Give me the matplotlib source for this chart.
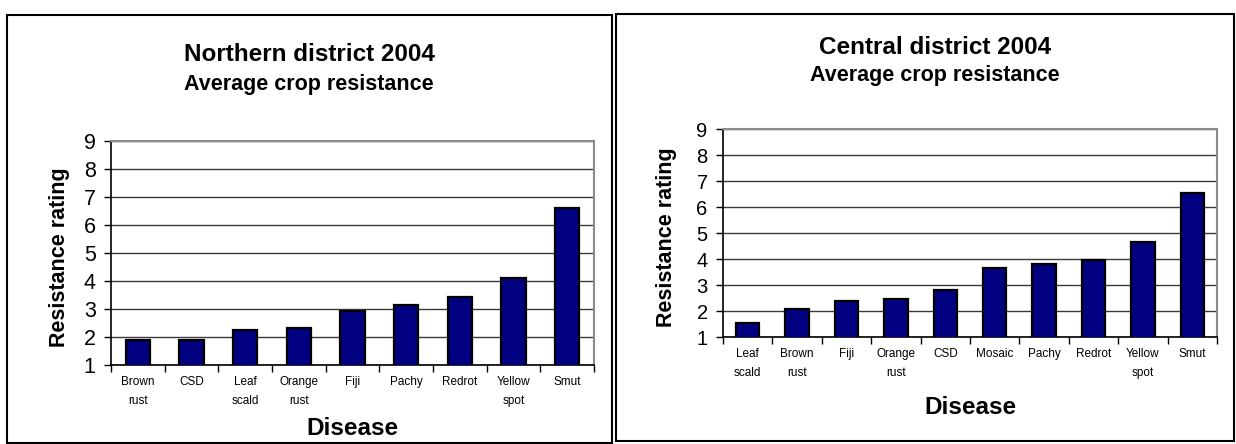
import matplotlib
matplotlib.use("Agg")
import matplotlib.pyplot as plt
from matplotlib.patches import Rectangle
import numpy as np

plt.rcParams['font.family'] = ['Liberation Sans', 'DejaVu Sans']

# Northern district 2004
north_labels = ["Brown\nrust", "CSD", "Leaf\nscald", "Orange\nrust", "Fiji",
                "Pachy", "Redrot", "Yellow\nspot", "Smut"]
north_values = [1.89, 1.89, 2.24, 2.31, 2.93, 3.15, 3.42, 4.11, 6.60]

# Central district 2004
central_labels = ["Leaf\nscald", "Brown\nrust", "Fiji", "Orange\nrust", "CSD",
                  "Mosaic", "Pachy", "Redrot", "Yellow\nspot", "Smut"]
central_values = [1.52, 2.08, 2.37, 2.45, 2.80, 3.66, 3.80, 3.96, 4.67, 6.52]

yticks = list(range(1, 10))

W, H = 1236, 444
fig = plt.figure(figsize=(W / 100, H / 100), dpi=100)


def px_box(x0, y0, x1, y1):
    # pixel box (top-left origin) -> figure fraction rect
    return [x0 / W, 1 - y1 / H, (x1 - x0) / W, (y1 - y0) / H]


def fx(x):
    return x / W


def fy(y):
    return 1 - y / H


def panel(rect, labels, values, title, tick_fs, title_y, sub_y, xl_y,
          yl_pos, bar_w, label_pad):
    ax = fig.add_axes(rect)
    n = len(values)
    pos = np.arange(n)
    ax.bar(pos, values, width=bar_w, color='#000080', edgecolor='black',
           linewidth=1.6, zorder=3)
    ax.set_xlim(-0.5, n - 0.5)
    ax.set_ylim(1, 9)
    ax.set_yticks(yticks)
    ax.tick_params(axis='y', labelsize=tick_fs, length=5, width=1, pad=6)
    # tick marks sit between categories, names centred under bars
    ax.set_xticks(np.arange(n + 1) - 0.5)
    ax.set_xticklabels([])
    ax.tick_params(axis='x', which='major', length=5, width=1, direction='out')
    ax.set_xticks(pos, minor=True)
    ax.set_xticklabels(labels, minor=True, fontsize=8.5, linespacing=1.8,
                       va='top')
    ax.tick_params(axis='x', which='minor', length=0, pad=label_pad)
    ax.yaxis.grid(True, color='#3a3a3a', linewidth=1)
    ax.set_axisbelow(True)
    for s in ('left', 'bottom'):
        ax.spines[s].set_color('black')
        ax.spines[s].set_linewidth(1.2)
    for s in ('top', 'right'):
        ax.spines[s].set_color('#8a8a8a')
        ax.spines[s].set_linewidth(1.5)

    cx = rect[0] + rect[2] / 2
    fig.text(title_y[0], fy(title_y[1]), title, ha='center',
             va='baseline', fontsize=17.5, fontweight='bold')
    fig.text(sub_y[0], fy(sub_y[1]), "Average crop resistance",
             ha='center', va='baseline', fontsize=15.5, fontweight='bold')
    fig.text(cx, fy(xl_y), "Disease", ha='center', va='center',
             fontsize=17.5, fontweight='bold')
    fig.text(fx(yl_pos[0]), fy(yl_pos[1]), "Resistance rating",
             rotation=90, ha='center', va='center', fontsize=15.5,
             fontweight='bold')
    return ax


panel(px_box(111, 141, 594, 365), north_labels, north_values,
      "Northern district 2004", 15.5, (fx(309), 61), (fx(309), 90), 428,
      (59, 257), 0.45, 8)
panel(px_box(723, 129, 1217, 337), central_labels, central_values,
      "Central district 2004", 14.5, (fx(935), 54), (fx(935), 81), 407,
      (667, 237), 0.47, 8)

# outer frames around each chart
for box in [(7, 15, 612, 443), (616, 14, 1234, 441)]:
    fig.add_artist(Rectangle(px_box(*box)[:2], px_box(*box)[2],
                             px_box(*box)[3], transform=fig.transFigure,
                             fill=False, edgecolor='black', linewidth=1.5))

fig.savefig("out.png", dpi=100)
